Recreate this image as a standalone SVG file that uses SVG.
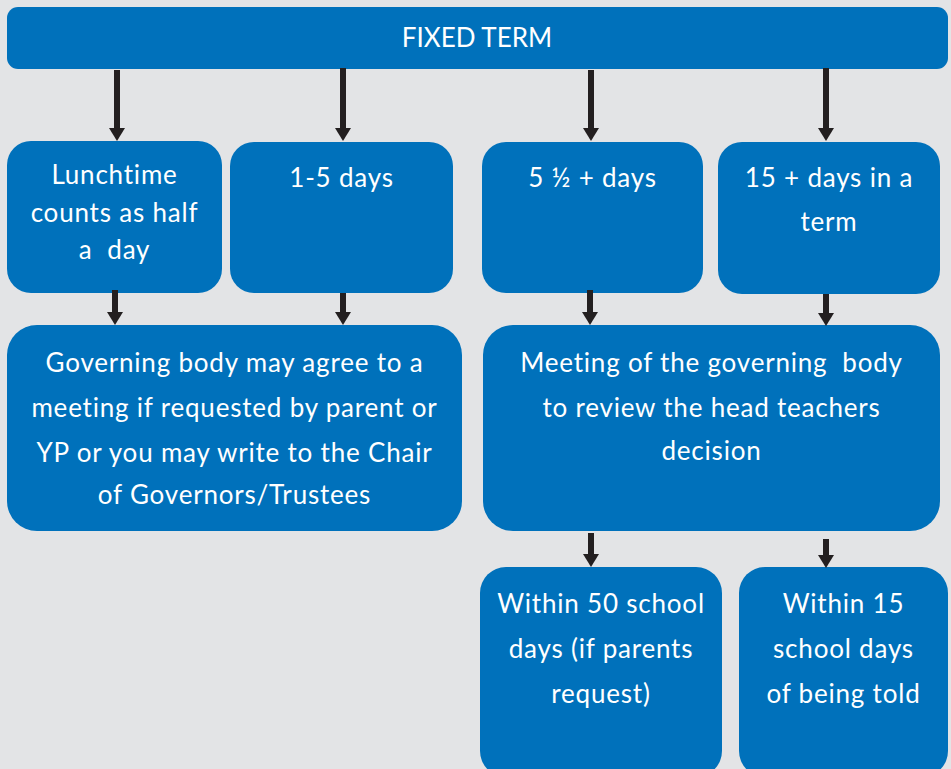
<svg xmlns="http://www.w3.org/2000/svg" width="951" height="769" viewBox="0 0 951 769">
<defs>
<marker id="ah" markerUnits="userSpaceOnUse" markerWidth="16" markerHeight="18" viewBox="0 -9 16 18" refX="3" refY="0" orient="auto">
<path d="M0,-8 L13,0 L0,8 z" fill="#231f20"/>
</marker>
</defs>
<style>
.box{fill:#0071bb}
.t{font-family:Lato,"Open Sans","Noto Sans",sans-serif;font-size:26px;letter-spacing:0.8px;fill:#ffffff;text-anchor:middle}
.h{letter-spacing:0}
.c{stroke:#231f20;stroke-width:6;fill:none;marker-end:url(#ah)}
</style>
<rect width="951" height="769" fill="#e3e4e6"/>
<g id="fixed-term">
<rect class="box" x="7" y="7" width="941" height="62" rx="11"/>
<text class="t h" x="477" y="47">FIXED TERM</text>
</g>
<g id="lunchtime">
<rect class="box" x="7" y="141" width="215" height="152" rx="24"/>
<text class="t" x="114.5" y="184">Lunchtime</text>
<text class="t" x="114.5" y="222">counts as half</text>
<text class="t" x="114.5" y="259" xml:space="preserve">a  day</text>
</g>
<g id="days-1-5">
<rect class="box" x="230" y="142" width="223" height="151" rx="24"/>
<text class="t" x="341.5" y="187">1-5 days</text>
</g>
<g id="days-5-half">
<rect class="box" x="482" y="142" width="221" height="151" rx="24"/>
<text class="t" x="592.5" y="187">5 ½ + days</text>
</g>
<g id="days-15">
<rect class="box" x="718" y="142" width="222" height="152" rx="24"/>
<text class="t" x="829" y="187">15 + days in a</text>
<text class="t" x="829" y="231">term</text>
</g>
<g id="governing-agree">
<rect class="box" x="7" y="325" width="455" height="206" rx="30"/>
<text class="t" x="234.5" y="372">Governing body may agree to a</text>
<text class="t" x="234.5" y="417">meeting if requested by parent or</text>
<text class="t" x="234.5" y="462">YP or you may write to the Chair</text>
<text class="t" x="234.5" y="504">of Governors/Trustees</text>
</g>
<g id="governing-meeting">
<rect class="box" x="483" y="325" width="457" height="206" rx="30"/>
<text class="t" x="711.5" y="372" xml:space="preserve">Meeting of the governing  body</text>
<text class="t" x="711.5" y="417">to review the head teachers</text>
<text class="t" x="711.5" y="460">decision</text>
</g>
<g id="within-50">
<rect class="box" x="480" y="567" width="242" height="210" rx="26"/>
<text class="t" x="601" y="613">Within 50 school</text>
<text class="t" x="601" y="658">days (if parents</text>
<text class="t" x="601" y="703">request)</text>
</g>
<g id="within-15">
<rect class="box" x="739" y="567" width="209" height="210" rx="26"/>
<text class="t" x="843.5" y="613">Within 15</text>
<text class="t" x="843.5" y="658">school days</text>
<text class="t" x="843.5" y="703">of being told</text>
</g>
<g id="connectors">
<line class="c" x1="117" y1="70" x2="117" y2="131"/>
<line class="c" x1="343" y1="68" x2="343" y2="131"/>
<line class="c" x1="591" y1="70" x2="591" y2="131"/>
<line class="c" x1="826" y1="68" x2="826" y2="131"/>
<line class="c" x1="115" y1="290" x2="115" y2="315"/>
<line class="c" x1="343" y1="293" x2="343" y2="315"/>
<line class="c" x1="590" y1="290" x2="590" y2="315"/>
<line class="c" x1="826" y1="294" x2="826" y2="316"/>
<line class="c" x1="591" y1="533" x2="591" y2="557"/>
<line class="c" x1="826" y1="539" x2="826" y2="558"/>
</g>
</svg>
